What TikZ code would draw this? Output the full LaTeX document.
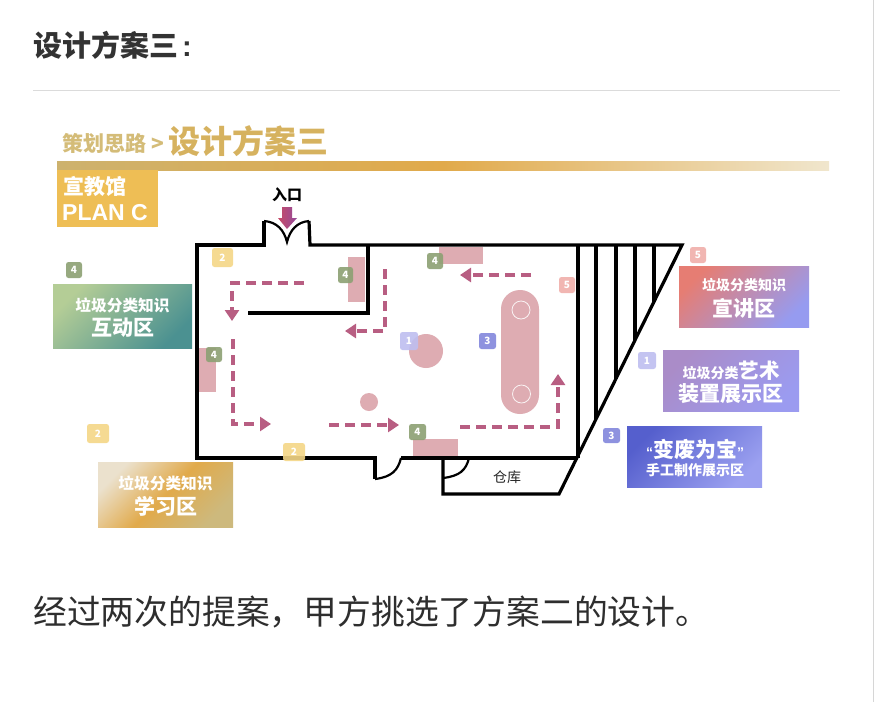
\documentclass[tikz,border=0pt]{standalone}
\usepackage{fontspec}
\setmainfont{Noto Sans CJK SC}
\newfontfamily\latinf{Liberation Sans}
\usetikzlibrary{arrows.meta}
\definecolor{pinkfurn}{RGB}{222,172,178}
\definecolor{flow}{RGB}{184,94,130}
\definecolor{titlegold}{RGB}{214,178,95}
\definecolor{subgold}{RGB}{212,188,120}
\definecolor{bgreen}{RGB}{140,160,115}
\definecolor{byellow}{RGB}{245,215,135}
\definecolor{bpink}{RGB}{240,175,170}
\definecolor{blav}{RGB}{190,190,240}
\definecolor{bblue}{RGB}{130,135,220}
\tikzset{
 wall/.style={draw=black,line width=3.2pt,line join=miter},
 thinwall/.style={draw=black,line width=2.2pt},
 furn/.style={fill=pinkfurn,draw=none},
 flowline/.style={draw=flow,line width=3.6pt,dash pattern=on 10pt off 6pt,-{Triangle[length=11pt,width=14pt]}},
 badge/.style={rounded corners=2.5pt,draw=none,fill opacity=.9},
 badgetext/.style={text=white,font=\bfseries\fontsize{10}{10}\selectfont,inner sep=0pt},
 paneltext/.style={text=white,font=\bfseries,align=center,inner sep=0pt},
}
\newcommand{\badgeat}[6]{% x1,y1,x2,y2,colour,text
 \fill[badge,fill=#5] (#1,#2) rectangle (#3,#4);
 \node[badgetext] at ({(#1+#3)/2},{(#2+#4)/2}) {#6};}
\begin{document}
\begin{tikzpicture}[x=1pt,y=-1pt]
\useasboundingbox (0,0) rectangle (874,702);
\fill[white] (0,0) rectangle (874,702);
\fill[black!16] (872.5,0) rectangle (874,702);
% page heading
\node[anchor=west,inner sep=0pt,text=black!80,font=\bfseries\fontsize{29}{29}\selectfont] (head) at (33,45) {设计方案三\hspace{4pt}{\latinf :}};
\draw[black!14,line width=1pt] (33,90) -- (840,90);
\node[anchor=west,inner sep=0pt,text=black!82,font=\fontsize{33.8}{34}\selectfont] (foot) at (33,612) {经过两次的提案，甲方挑选了方案二的设计。};
% slide title
\node[anchor=west,inner sep=0pt,text=subgold,font=\bfseries\fontsize{21}{21}\selectfont] (t1) at (62,143) {策划思路 >};
\node[anchor=west,inner sep=0pt,text=titlegold,font=\bfseries\fontsize{32}{32}\selectfont] (t2) at (168,141) {设计方案三};
\shade[left color={rgb,255:red,205;green,178;blue,110},right color={rgb,255:red,240;green,230;blue,205},middle color={rgb,255:red,225;green,170;blue,75}] (57,161) rectangle (829,170);
% plan C
\fill[fill={rgb,255:red,238;green,190;blue,85}] (57,170) rectangle (158,227);
\node[anchor=west,paneltext,font=\bfseries\fontsize{21}{21}\selectfont] (pa) at (63,186) {宣教馆};
\node[anchor=west,paneltext,font=\latinf\bfseries\fontsize{23}{23}\selectfont] (pb) at (62,213) {PLAN C};
% panels
\shade[left color={rgb,255:red,180;green,205;blue,150},right color={rgb,255:red,75;green,145;blue,145},shading angle=45] (53,284) rectangle (192,348);
\node[paneltext,font=\bfseries\fontsize{15.7}{16}\selectfont] (p1) at (122.5,305) {垃圾分类知识};
\node[paneltext,font=\bfseries\fontsize{21}{21}\selectfont] (p2) at (122.5,328) {互动区};
\shade[left color={rgb,255:red,235;green,225;blue,205},right color={rgb,255:red,205;green,185;blue,125},middle color={rgb,255:red,225;green,170;blue,75},shading angle=45] (98,462) rectangle (233,527);
\node[paneltext,font=\bfseries\fontsize{15.7}{16}\selectfont] (p3) at (165.5,483) {垃圾分类知识};
\node[paneltext,font=\bfseries\fontsize{21}{21}\selectfont] (p4) at (165.5,506) {学习区};
\shade[left color={rgb,255:red,230;green,125;blue,115},right color={rgb,255:red,150;green,155;blue,240},shading angle=45] (679,266) rectangle (809,327);
\node[paneltext,font=\bfseries\fontsize{14}{14}\selectfont] (p5) at (744,285) {垃圾分类知识};
\node[paneltext,font=\bfseries\fontsize{21}{21}\selectfont] (p6) at (744,308) {宣讲区};
\shade[left color={rgb,255:red,170;green,140;blue,200},right color={rgb,255:red,155;green,155;blue,240},shading angle=45] (663,350) rectangle (799,411);
\node[paneltext,font=\bfseries\fontsize{20.5}{21}\selectfont] (p7) at (731,371) {{\fontsize{14}{14}\selectfont 垃圾分类}艺术};
\node[paneltext,font=\bfseries\fontsize{21}{21}\selectfont] (p8) at (731,394) {装置展示区};
\shade[left color={rgb,255:red,85;green,95;blue,205},right color={rgb,255:red,155;green,160;blue,240},shading angle=45] (627,426) rectangle (762,487);
\node[paneltext,font=\bfseries\fontsize{21}{21}\selectfont] (p9) at (695,449) {{\latinf\fontsize{14}{14}\selectfont “}变废为宝{\latinf\fontsize{14}{14}\selectfont ”}};
\node[paneltext,font=\bfseries\fontsize{14}{14}\selectfont] (p10) at (695,470) {手工制作展示区};
% furniture
\fill[furn] (348,257) rectangle (365,302);
\fill[furn] (439,247) rectangle (483,264);
\fill[furn] (198,348) rectangle (216,392);
\fill[furn] (413,439) rectangle (458,458);
\fill[furn] (426,351) circle (17);
\fill[furn] (369,402) circle (9);
\fill[furn,rounded corners=18.9pt] (501,290) rectangle (539,414);
\draw[white!85!pinkfurn,line width=.8pt] (521,310) circle (9) (521.5,394) circle (9);
% entry arrow
\shade[left color=flow!80!red,right color=flow!80!blue] (282,207) -- (292,207) -- (292,218) -- (297,218) -- (287,229) -- (278,218) -- (282,218) -- cycle;
% walls
\draw[wall] (264,221) -- (264,245) -- (197,245) -- (197,458) -- (375,458) -- (375,479);
\draw[thinwall] (264,221) .. controls (277,222) and (284,230) .. (287,242) .. controls (290,230) and (297,222) .. (309,221);
\draw[wall] (309,221) -- (310,245) -- (682,245) -- (559,494) -- (443,494) -- (443,458);
\draw[thinwall] (375,479) .. controls (392,477) and (398,470) .. (401,458);
\draw[wall] (401,458) -- (578,458);
\draw[wall] (368,245) -- (368,313) -- (248,313);
\draw[wall] (578,245) -- (578,458);
\draw[thinwall] (443,478) .. controls (460,476) and (466,470) .. (469,458);
\draw[wall] (596,245) -- (596,419);
\draw[wall] (616,245) -- (616,379);
\draw[wall] (635,245) -- (635,340);
\draw[wall] (654,245) -- (654,302);
% flow arrows
\draw[flowline] (304,283) -- (232,283) -- (232,321);
\draw[flowline] (233,339) -- (233,424) -- (271,424);
\draw[flowline] (329,425) -- (399,425);
\draw[flowline] (460,427) -- (558,427) -- (558,374);
\draw[flowline] (531,275) -- (460,275);
\draw[flowline] (385,269) -- (385,331) -- (345,331);
\node[inner sep=0pt,font=\bfseries\fontsize{15}{15}\selectfont] (entry) at (287,195) {入口};
\node[inner sep=0pt,font=\fontsize{14}{14}\selectfont,text=black!85] (store) at (507,477) {仓库};
% badges
\badgeat{212}{248}{233}{267}{byellow}{2}
\badgeat{338}{267}{353}{283}{bgreen}{4}
\badgeat{427}{253}{443}{269}{bgreen}{4}
\badgeat{559}{277}{575}{293}{bpink}{5}
\badgeat{400}{332}{418}{350}{blav}{1}
\badgeat{479}{333}{496}{349}{bblue}{3}
\badgeat{206}{347}{222}{362}{bgreen}{4}
\badgeat{409}{424}{426}{440}{bgreen}{4}
\badgeat{283}{443}{305}{461}{byellow}{2}
\badgeat{66}{262}{82}{278}{bgreen}{4}
\badgeat{690}{247}{706}{263}{bpink}{5}
\badgeat{638}{352}{656}{369}{blav}{1}
\badgeat{603}{428}{620}{443}{bblue}{3}
\badgeat{87}{424}{109}{443}{byellow}{2}
\end{tikzpicture}
\end{document}
